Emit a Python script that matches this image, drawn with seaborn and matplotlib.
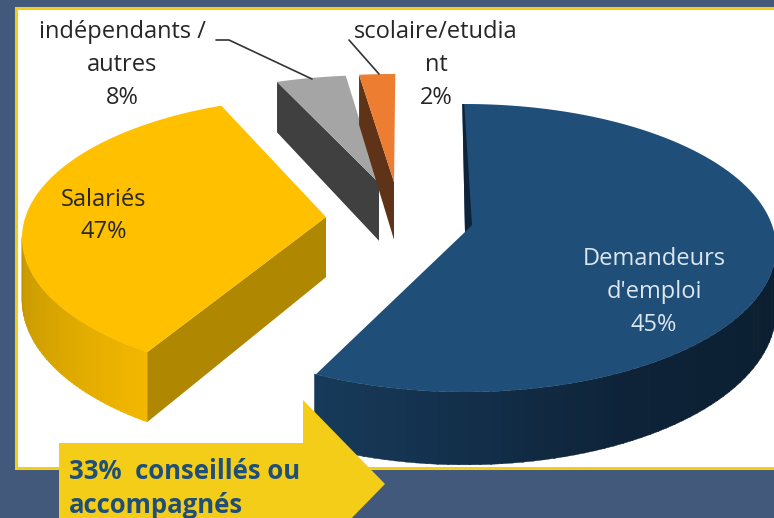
import numpy as np
import matplotlib.pyplot as plt
import seaborn as sns

# values
categories = ['Demandeurs\nd\'emploi\n45%', 'Salariés\n47%', 'indépendants /\nautres\n8%', 'scolaire/etudia\nnt\n2%']
# angle each slice really takes in the drawing, % of the circle
shares = [58.1, 34.4, 3.7, 1.9]
top_colors = ['#1F4E79', '#FFC000', '#A5A5A5', '#ED7D31']
wall_colors = ['#0E2338', '#B08700', '#404040', '#5E3317']
arrow_lines = ['33%  conseillés ou', 'accompagnés']

# layout in pixels of the image: apex x, apex y, start angle, a, b, ellipse offset
layout = [(465, 232, -0.5, 311, 144, 16),
          (326, 217, 216, 304, 141, 21),
          (379, 183, 340.4, 304, 118, 10),
          (394, 182, 353.4, 304, 118, 10)]
side_ramps = [['#0B1E2F', '#0E2338', '#173A5A'], ['#C49600', '#D9A600', '#F2B700'], None, None]
label_pos = [(654, 292), (104, 216), (122, 65), (436, 65)]
label_colors = ['#DCE6EE', '#262626', '#262626', '#262626']
draw_order = [1, 2, 3, 0]

sns.set_theme(style='white')
plt.rcParams['font.family'] = ['Open Sans', 'DejaVu Sans']


def depth(y):
    # slices further back look thinner
    return 50 + 0.072 * (y - 75)


def arc(i, t):
    cx, cy, start, a, b, off = layout[i]
    r = np.radians(t)
    return cx + a * np.sin(r), cy + off - b * np.cos(r)


fig = plt.figure(figsize=(7.74, 5.18), dpi=100, facecolor='#43597C')
ax = fig.add_axes([0, 0, 1, 1])
ax.set_xlim(0, 774)
ax.set_ylim(518, 0)
ax.axis('off')

# white panel with yellow border
ax.fill([15.5, 790, 790, 15.5], [8, 8, 467.5, 467.5], facecolor='white', edgecolor='#F3CD17', lw=2.2, zorder=1)

for i in draw_order:
    cx, cy, start, a, b, off = layout[i]
    sweep = shares[i] * 3.6
    end = start + sweep
    ts = np.linspace(start, end, 120)
    x, y = arc(i, ts)

    # outer side, only the part turned towards us
    if side_ramps[i] is not None:
        lo, hi = max(start, 90), min(end, 270)
        edges = np.linspace(lo, hi, 61)
        ramp = sns.blend_palette(side_ramps[i], 60)
        if i == 1:
            ramp = ramp[::-1]
        for k in range(60):
            tt = np.linspace(edges[k], edges[k + 1] + 0.3, 4)
            sx, sy = arc(i, tt)
            ax.fill(np.r_[sx, sx[::-1]], np.r_[sy, (sy + depth(sy))[::-1]], color=ramp[k], lw=0.3, zorder=2 + i)

    # straight wall along the first radius
    if i != 0:
        sx, sy = arc(i, start)
        ax.fill([sx, cx, cx, sx], [sy, cy, cy + depth(cy), sy + depth(sy)], color=wall_colors[i], lw=0, zorder=2 + i)

    ax.fill(np.r_[cx, x], np.r_[cy, y], color=top_colors[i], lw=0, zorder=2.5 + i)

    # thin dark inner wall at the top of the big slice
    if i == 0:
        sx, sy = arc(i, start)
        ax.fill([sx, cx, cx + 7, sx + 2], [sy, cy, cy - 7, sy], color=wall_colors[0], lw=0, zorder=3 + i)

    tx, ty = label_pos[i]
    ax.text(tx, ty, categories[i], color=label_colors[i], fontsize=17, ha='center', va='center',
            linespacing=1.5, zorder=8)

# leader lines
ax.plot([216, 229, 312], [40, 40, 79], color='#333333', lw=1.2, zorder=7)
ax.plot([349, 379], [40, 74], color='#333333', lw=1.2, zorder=7)

# yellow arrow on top
ax.fill([59, 303, 303, 385, 303, 59], [443, 443, 400, 484, 568, 568], color='#F3CD17', lw=0, zorder=9)
ax.text(69, 479, arrow_lines[0], color='#1F4E79', fontsize=18.5, fontweight='bold', va='baseline', zorder=10)
ax.text(69, 513, arrow_lines[1], color='#1F4E79', fontsize=18.5, fontweight='bold', va='baseline', zorder=10)

fig.savefig('out.png', dpi=100, facecolor=fig.get_facecolor())
